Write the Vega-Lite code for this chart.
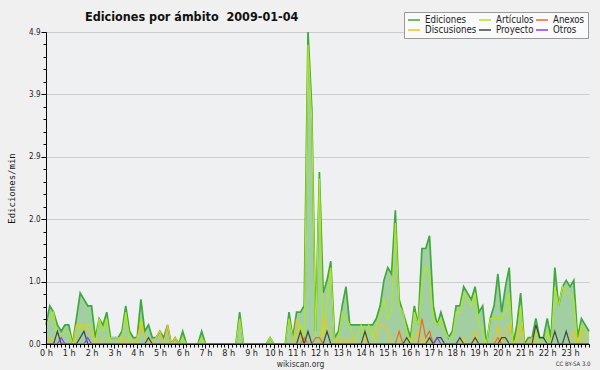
{
"$schema": "https://vega.github.io/schema/vega-lite/v6.json",
"width": 543, "height": 312,
"autosize": {"type": "none"},
"padding": {"left": 46, "top": 32, "right": 11, "bottom": 26},
"background": "#f0f0f0",
"config": {
  "view": {"fill": "#eff0f2", "stroke": null},
  "font": "DejaVu Sans Condensed",
  "axis": {"labelFont": "DejaVu Sans Condensed", "titleFont": "DejaVu Sans Condensed", "domainColor": "#000000", "tickColor": "#000000", "labelColor": "#222222"}
},
"title": {"text": "Ediciones por ámbito\u00a0 2009-01-04", "frame": "group", "anchor": "start", "dx": 39, "dy": 15, "offset": -7, "baseline": "alphabetic", "font": "DejaVu Sans Condensed", "fontSize": 12.5, "fontWeight": "bold", "color": "#111111"},
"resolve": {"axis": {"x": "independent", "y": "independent"}},
"data": {"values": [
{"s":"Ediciones","t":0,"v":0.3},{"s":"Ediciones","t":10,"v":0.6},{"s":"Ediciones","t":20,"v":0.5},{"s":"Ediciones","t":30,"v":0.3},{"s":"Ediciones","t":40,"v":0.2},{"s":"Ediciones","t":50,"v":0.3},
{"s":"Ediciones","t":60,"v":0.3},{"s":"Ediciones","t":70,"v":0},{"s":"Ediciones","t":80,"v":0.4},{"s":"Ediciones","t":90,"v":0.8},{"s":"Ediciones","t":100,"v":0.7},{"s":"Ediciones","t":110,"v":0.6},
{"s":"Ediciones","t":120,"v":0.6},{"s":"Ediciones","t":130,"v":0.1},{"s":"Ediciones","t":140,"v":0.4},{"s":"Ediciones","t":150,"v":0.3},{"s":"Ediciones","t":160,"v":0.5},{"s":"Ediciones","t":170,"v":0.1},
{"s":"Ediciones","t":180,"v":0.1},{"s":"Ediciones","t":190,"v":0.1},{"s":"Ediciones","t":200,"v":0.2},{"s":"Ediciones","t":210,"v":0.6},{"s":"Ediciones","t":220,"v":0.2},{"s":"Ediciones","t":230,"v":0.1},
{"s":"Ediciones","t":240,"v":0.1},{"s":"Ediciones","t":250,"v":0.7},{"s":"Ediciones","t":260,"v":0.2},{"s":"Ediciones","t":270,"v":0.3},{"s":"Ediciones","t":280,"v":0.1},{"s":"Ediciones","t":290,"v":0.1},
{"s":"Ediciones","t":300,"v":0.2},{"s":"Ediciones","t":310,"v":0.1},{"s":"Ediciones","t":320,"v":0.3},{"s":"Ediciones","t":330,"v":0},{"s":"Ediciones","t":340,"v":0.1},{"s":"Ediciones","t":350,"v":0},
{"s":"Ediciones","t":360,"v":0.2},{"s":"Ediciones","t":370,"v":0},{"s":"Ediciones","t":380,"v":0},{"s":"Ediciones","t":390,"v":0},{"s":"Ediciones","t":400,"v":0},{"s":"Ediciones","t":410,"v":0.2},
{"s":"Ediciones","t":420,"v":0},{"s":"Ediciones","t":430,"v":0},{"s":"Ediciones","t":440,"v":0},{"s":"Ediciones","t":450,"v":0},{"s":"Ediciones","t":460,"v":0},{"s":"Ediciones","t":470,"v":0},
{"s":"Ediciones","t":480,"v":0},{"s":"Ediciones","t":490,"v":0},{"s":"Ediciones","t":500,"v":0},{"s":"Ediciones","t":510,"v":0.5},{"s":"Ediciones","t":520,"v":0},{"s":"Ediciones","t":530,"v":0},
{"s":"Ediciones","t":540,"v":0},{"s":"Ediciones","t":550,"v":0},{"s":"Ediciones","t":560,"v":0},{"s":"Ediciones","t":570,"v":0},{"s":"Ediciones","t":580,"v":0},{"s":"Ediciones","t":590,"v":0.1},
{"s":"Ediciones","t":600,"v":0},{"s":"Ediciones","t":610,"v":0},{"s":"Ediciones","t":620,"v":0},{"s":"Ediciones","t":630,"v":0},{"s":"Ediciones","t":640,"v":0.5},{"s":"Ediciones","t":650,"v":0.1},
{"s":"Ediciones","t":660,"v":0.5},{"s":"Ediciones","t":670,"v":0.5},{"s":"Ediciones","t":680,"v":0.6},{"s":"Ediciones","t":690,"v":4.9},{"s":"Ediciones","t":700,"v":3.7},{"s":"Ediciones","t":710,"v":0.2},
{"s":"Ediciones","t":720,"v":2.7},{"s":"Ediciones","t":730,"v":0.8},{"s":"Ediciones","t":740,"v":1.0},{"s":"Ediciones","t":750,"v":1.3},{"s":"Ediciones","t":760,"v":0.1},{"s":"Ediciones","t":770,"v":0.2},
{"s":"Ediciones","t":780,"v":0.6},{"s":"Ediciones","t":790,"v":0.9},{"s":"Ediciones","t":800,"v":0.3},{"s":"Ediciones","t":810,"v":0.3},{"s":"Ediciones","t":820,"v":0.3},{"s":"Ediciones","t":830,"v":0.3},
{"s":"Ediciones","t":840,"v":0.3},{"s":"Ediciones","t":850,"v":0.3},{"s":"Ediciones","t":860,"v":0.3},{"s":"Ediciones","t":870,"v":0.4},{"s":"Ediciones","t":880,"v":0.6},{"s":"Ediciones","t":890,"v":1.0},
{"s":"Ediciones","t":900,"v":1.2},{"s":"Ediciones","t":910,"v":1.1},{"s":"Ediciones","t":920,"v":2.1},{"s":"Ediciones","t":930,"v":0.7},{"s":"Ediciones","t":940,"v":0.5},{"s":"Ediciones","t":950,"v":0.3},
{"s":"Ediciones","t":960,"v":0.1},{"s":"Ediciones","t":970,"v":0.6},{"s":"Ediciones","t":980,"v":0.3},{"s":"Ediciones","t":990,"v":1.5},{"s":"Ediciones","t":1000,"v":1.5},{"s":"Ediciones","t":1010,"v":1.7},
{"s":"Ediciones","t":1020,"v":0.6},{"s":"Ediciones","t":1030,"v":0.3},{"s":"Ediciones","t":1040,"v":0.5},{"s":"Ediciones","t":1050,"v":0.3},{"s":"Ediciones","t":1060,"v":0.1},{"s":"Ediciones","t":1070,"v":0.2},
{"s":"Ediciones","t":1080,"v":0.6},{"s":"Ediciones","t":1090,"v":0.6},{"s":"Ediciones","t":1100,"v":0.9},{"s":"Ediciones","t":1110,"v":0.8},{"s":"Ediciones","t":1120,"v":0.7},{"s":"Ediciones","t":1130,"v":0.9},
{"s":"Ediciones","t":1140,"v":0.5},{"s":"Ediciones","t":1150,"v":0.6},{"s":"Ediciones","t":1160,"v":0},{"s":"Ediciones","t":1170,"v":0.4},{"s":"Ediciones","t":1180,"v":0.6},{"s":"Ediciones","t":1190,"v":1.1},
{"s":"Ediciones","t":1200,"v":0.5},{"s":"Ediciones","t":1210,"v":0.9},{"s":"Ediciones","t":1220,"v":1.2},{"s":"Ediciones","t":1230,"v":0},{"s":"Ediciones","t":1240,"v":0.3},{"s":"Ediciones","t":1250,"v":0.8},
{"s":"Ediciones","t":1260,"v":0},{"s":"Ediciones","t":1270,"v":0.1},{"s":"Ediciones","t":1280,"v":0.1},{"s":"Ediciones","t":1290,"v":0.4},{"s":"Ediciones","t":1300,"v":0.1},{"s":"Ediciones","t":1310,"v":0.1},
{"s":"Ediciones","t":1320,"v":0.4},{"s":"Ediciones","t":1330,"v":0.1},{"s":"Ediciones","t":1340,"v":1.2},{"s":"Ediciones","t":1350,"v":0.6},{"s":"Ediciones","t":1360,"v":0.9},{"s":"Ediciones","t":1370,"v":1.0},
{"s":"Ediciones","t":1380,"v":0.9},{"s":"Ediciones","t":1390,"v":1.0},{"s":"Ediciones","t":1400,"v":0.1},{"s":"Ediciones","t":1410,"v":0.4},{"s":"Ediciones","t":1420,"v":0.3},{"s":"Ediciones","t":1430,"v":0.2},

{"s":"Artículos","t":0,"v":0.3},{"s":"Artículos","t":10,"v":0.4},{"s":"Artículos","t":20,"v":0.5},{"s":"Artículos","t":30,"v":0.1},{"s":"Artículos","t":40,"v":0.1},{"s":"Artículos","t":50,"v":0.2},
{"s":"Artículos","t":60,"v":0.2},{"s":"Artículos","t":70,"v":0},{"s":"Artículos","t":80,"v":0.1},{"s":"Artículos","t":90,"v":0.3},{"s":"Artículos","t":100,"v":0.2},{"s":"Artículos","t":110,"v":0.3},
{"s":"Artículos","t":120,"v":0.3},{"s":"Artículos","t":130,"v":0},{"s":"Artículos","t":140,"v":0.4},{"s":"Artículos","t":150,"v":0.2},{"s":"Artículos","t":160,"v":0.4},{"s":"Artículos","t":170,"v":0},
{"s":"Artículos","t":180,"v":0},{"s":"Artículos","t":190,"v":0},{"s":"Artículos","t":200,"v":0.1},{"s":"Artículos","t":210,"v":0.5},{"s":"Artículos","t":220,"v":0.1},{"s":"Artículos","t":230,"v":0},
{"s":"Artículos","t":240,"v":0},{"s":"Artículos","t":250,"v":0.4},{"s":"Artículos","t":260,"v":0.1},{"s":"Artículos","t":270,"v":0.1},{"s":"Artículos","t":280,"v":0},{"s":"Artículos","t":290,"v":0},
{"s":"Artículos","t":300,"v":0},{"s":"Artículos","t":310,"v":0},{"s":"Artículos","t":320,"v":0},{"s":"Artículos","t":330,"v":0},{"s":"Artículos","t":340,"v":0},{"s":"Artículos","t":350,"v":0},
{"s":"Artículos","t":360,"v":0.1},{"s":"Artículos","t":370,"v":0},{"s":"Artículos","t":380,"v":0},{"s":"Artículos","t":390,"v":0},{"s":"Artículos","t":400,"v":0},{"s":"Artículos","t":410,"v":0.1},
{"s":"Artículos","t":420,"v":0},{"s":"Artículos","t":430,"v":0},{"s":"Artículos","t":440,"v":0},{"s":"Artículos","t":450,"v":0},{"s":"Artículos","t":460,"v":0},{"s":"Artículos","t":470,"v":0},
{"s":"Artículos","t":480,"v":0},{"s":"Artículos","t":490,"v":0},{"s":"Artículos","t":500,"v":0},{"s":"Artículos","t":510,"v":0.4},{"s":"Artículos","t":520,"v":0},{"s":"Artículos","t":530,"v":0},
{"s":"Artículos","t":540,"v":0},{"s":"Artículos","t":550,"v":0},{"s":"Artículos","t":560,"v":0},{"s":"Artículos","t":570,"v":0},{"s":"Artículos","t":580,"v":0},{"s":"Artículos","t":590,"v":0.1},
{"s":"Artículos","t":600,"v":0},{"s":"Artículos","t":610,"v":0},{"s":"Artículos","t":620,"v":0},{"s":"Artículos","t":630,"v":0},{"s":"Artículos","t":640,"v":0.4},{"s":"Artículos","t":650,"v":0.1},
{"s":"Artículos","t":660,"v":0.1},{"s":"Artículos","t":670,"v":0.3},{"s":"Artículos","t":680,"v":0.1},{"s":"Artículos","t":690,"v":4.7},{"s":"Artículos","t":700,"v":3.5},{"s":"Artículos","t":710,"v":0.1},
{"s":"Artículos","t":720,"v":2.6},{"s":"Artículos","t":730,"v":0.1},{"s":"Artículos","t":740,"v":0.6},{"s":"Artículos","t":750,"v":1.2},{"s":"Artículos","t":760,"v":0},{"s":"Artículos","t":770,"v":0.1},
{"s":"Artículos","t":780,"v":0.5},{"s":"Artículos","t":790,"v":0.4},{"s":"Artículos","t":800,"v":0.3},{"s":"Artículos","t":810,"v":0.1},{"s":"Artículos","t":820,"v":0.1},{"s":"Artículos","t":830,"v":0.3},
{"s":"Artículos","t":840,"v":0.1},{"s":"Artículos","t":850,"v":0.3},{"s":"Artículos","t":860,"v":0.1},{"s":"Artículos","t":870,"v":0.3},{"s":"Artículos","t":880,"v":0.5},{"s":"Artículos","t":890,"v":0.7},
{"s":"Artículos","t":900,"v":0.4},{"s":"Artículos","t":910,"v":0.5},{"s":"Artículos","t":920,"v":1.9},{"s":"Artículos","t":930,"v":0.6},{"s":"Artículos","t":940,"v":0.5},{"s":"Artículos","t":950,"v":0.2},
{"s":"Artículos","t":960,"v":0},{"s":"Artículos","t":970,"v":0.5},{"s":"Artículos","t":980,"v":0.3},{"s":"Artículos","t":990,"v":1.0},{"s":"Artículos","t":1000,"v":1.2},{"s":"Artículos","t":1010,"v":1.1},
{"s":"Artículos","t":1020,"v":0.4},{"s":"Artículos","t":1030,"v":0.3},{"s":"Artículos","t":1040,"v":0.4},{"s":"Artículos","t":1050,"v":0.2},{"s":"Artículos","t":1060,"v":0.1},{"s":"Artículos","t":1070,"v":0.1},
{"s":"Artículos","t":1080,"v":0.5},{"s":"Artículos","t":1090,"v":0.5},{"s":"Artículos","t":1100,"v":0.8},{"s":"Artículos","t":1110,"v":0.7},{"s":"Artículos","t":1120,"v":0.6},{"s":"Artículos","t":1130,"v":0.8},
{"s":"Artículos","t":1140,"v":0.3},{"s":"Artículos","t":1150,"v":0.2},{"s":"Artículos","t":1160,"v":0},{"s":"Artículos","t":1170,"v":0.4},{"s":"Artículos","t":1180,"v":0.4},{"s":"Artículos","t":1190,"v":0.4},
{"s":"Artículos","t":1200,"v":0.4},{"s":"Artículos","t":1210,"v":0.5},{"s":"Artículos","t":1220,"v":0.8},{"s":"Artículos","t":1230,"v":0},{"s":"Artículos","t":1240,"v":0.1},{"s":"Artículos","t":1250,"v":0.6},
{"s":"Artículos","t":1260,"v":0},{"s":"Artículos","t":1270,"v":0},{"s":"Artículos","t":1280,"v":0},{"s":"Artículos","t":1290,"v":0.2},{"s":"Artículos","t":1300,"v":0},{"s":"Artículos","t":1310,"v":0},
{"s":"Artículos","t":1320,"v":0.2},{"s":"Artículos","t":1330,"v":0},{"s":"Artículos","t":1340,"v":0.9},{"s":"Artículos","t":1350,"v":0.6},{"s":"Artículos","t":1360,"v":0.9},{"s":"Artículos","t":1370,"v":0.8},
{"s":"Artículos","t":1380,"v":0.8},{"s":"Artículos","t":1390,"v":0.7},{"s":"Artículos","t":1400,"v":0},{"s":"Artículos","t":1410,"v":0.3},{"s":"Artículos","t":1420,"v":0.2},{"s":"Artículos","t":1430,"v":0.1},

{"s":"Discusiones","t":0,"v":0},{"s":"Discusiones","t":10,"v":0.1},{"s":"Discusiones","t":20,"v":0},{"s":"Discusiones","t":30,"v":0},{"s":"Discusiones","t":40,"v":0},{"s":"Discusiones","t":50,"v":0},
{"s":"Discusiones","t":60,"v":0},{"s":"Discusiones","t":70,"v":0},{"s":"Discusiones","t":80,"v":0.3},{"s":"Discusiones","t":90,"v":0.3},{"s":"Discusiones","t":100,"v":0.3},{"s":"Discusiones","t":110,"v":0.2},
{"s":"Discusiones","t":120,"v":0.2},{"s":"Discusiones","t":130,"v":0},{"s":"Discusiones","t":140,"v":0},{"s":"Discusiones","t":150,"v":0.1},{"s":"Discusiones","t":160,"v":0.1},{"s":"Discusiones","t":170,"v":0.1},
{"s":"Discusiones","t":180,"v":0.1},{"s":"Discusiones","t":190,"v":0.1},{"s":"Discusiones","t":200,"v":0},{"s":"Discusiones","t":210,"v":0.1},{"s":"Discusiones","t":220,"v":0},{"s":"Discusiones","t":230,"v":0},
{"s":"Discusiones","t":240,"v":0.1},{"s":"Discusiones","t":250,"v":0.3},{"s":"Discusiones","t":260,"v":0.1},{"s":"Discusiones","t":270,"v":0.1},{"s":"Discusiones","t":280,"v":0},{"s":"Discusiones","t":290,"v":0.1},
{"s":"Discusiones","t":300,"v":0.2},{"s":"Discusiones","t":310,"v":0},{"s":"Discusiones","t":320,"v":0.3},{"s":"Discusiones","t":330,"v":0},{"s":"Discusiones","t":340,"v":0.1},{"s":"Discusiones","t":350,"v":0},
{"s":"Discusiones","t":360,"v":0},{"s":"Discusiones","t":370,"v":0},{"s":"Discusiones","t":380,"v":0},{"s":"Discusiones","t":390,"v":0},{"s":"Discusiones","t":400,"v":0},{"s":"Discusiones","t":410,"v":0},
{"s":"Discusiones","t":420,"v":0},{"s":"Discusiones","t":430,"v":0},{"s":"Discusiones","t":440,"v":0},{"s":"Discusiones","t":450,"v":0},{"s":"Discusiones","t":460,"v":0},{"s":"Discusiones","t":470,"v":0},
{"s":"Discusiones","t":480,"v":0},{"s":"Discusiones","t":490,"v":0},{"s":"Discusiones","t":500,"v":0},{"s":"Discusiones","t":510,"v":0},{"s":"Discusiones","t":520,"v":0},{"s":"Discusiones","t":530,"v":0},
{"s":"Discusiones","t":540,"v":0},{"s":"Discusiones","t":550,"v":0},{"s":"Discusiones","t":560,"v":0},{"s":"Discusiones","t":570,"v":0},{"s":"Discusiones","t":580,"v":0},{"s":"Discusiones","t":590,"v":0},
{"s":"Discusiones","t":600,"v":0},{"s":"Discusiones","t":610,"v":0},{"s":"Discusiones","t":620,"v":0},{"s":"Discusiones","t":630,"v":0},{"s":"Discusiones","t":640,"v":0},{"s":"Discusiones","t":650,"v":0},
{"s":"Discusiones","t":660,"v":0.4},{"s":"Discusiones","t":670,"v":0.1},{"s":"Discusiones","t":680,"v":0},{"s":"Discusiones","t":690,"v":0},{"s":"Discusiones","t":700,"v":0},{"s":"Discusiones","t":710,"v":0},
{"s":"Discusiones","t":720,"v":0},{"s":"Discusiones","t":730,"v":0.4},{"s":"Discusiones","t":740,"v":0.3},{"s":"Discusiones","t":750,"v":0},{"s":"Discusiones","t":760,"v":0},{"s":"Discusiones","t":770,"v":0.1},
{"s":"Discusiones","t":780,"v":0},{"s":"Discusiones","t":790,"v":0.1},{"s":"Discusiones","t":800,"v":0},{"s":"Discusiones","t":810,"v":0.1},{"s":"Discusiones","t":820,"v":0},{"s":"Discusiones","t":830,"v":0},
{"s":"Discusiones","t":840,"v":0.1},{"s":"Discusiones","t":850,"v":0},{"s":"Discusiones","t":860,"v":0},{"s":"Discusiones","t":870,"v":0.1},{"s":"Discusiones","t":880,"v":0.3},{"s":"Discusiones","t":890,"v":0.3},
{"s":"Discusiones","t":900,"v":0.2},{"s":"Discusiones","t":910,"v":0},{"s":"Discusiones","t":920,"v":0},{"s":"Discusiones","t":930,"v":0.2},{"s":"Discusiones","t":940,"v":0},{"s":"Discusiones","t":950,"v":0},
{"s":"Discusiones","t":960,"v":0},{"s":"Discusiones","t":970,"v":0.1},{"s":"Discusiones","t":980,"v":0.2},{"s":"Discusiones","t":990,"v":0},{"s":"Discusiones","t":1000,"v":0.1},{"s":"Discusiones","t":1010,"v":0},
{"s":"Discusiones","t":1020,"v":0},{"s":"Discusiones","t":1030,"v":0},{"s":"Discusiones","t":1040,"v":0},{"s":"Discusiones","t":1050,"v":0},{"s":"Discusiones","t":1060,"v":0},{"s":"Discusiones","t":1070,"v":0},
{"s":"Discusiones","t":1080,"v":0},{"s":"Discusiones","t":1090,"v":0},{"s":"Discusiones","t":1100,"v":0.1},{"s":"Discusiones","t":1110,"v":0},{"s":"Discusiones","t":1120,"v":0},{"s":"Discusiones","t":1130,"v":0.2},
{"s":"Discusiones","t":1140,"v":0},{"s":"Discusiones","t":1150,"v":0},{"s":"Discusiones","t":1160,"v":0},{"s":"Discusiones","t":1170,"v":0},{"s":"Discusiones","t":1180,"v":0},{"s":"Discusiones","t":1190,"v":0.3},
{"s":"Discusiones","t":1200,"v":0},{"s":"Discusiones","t":1210,"v":0.2},{"s":"Discusiones","t":1220,"v":0.3},{"s":"Discusiones","t":1230,"v":0},{"s":"Discusiones","t":1240,"v":0},{"s":"Discusiones","t":1250,"v":0.3},
{"s":"Discusiones","t":1260,"v":0},{"s":"Discusiones","t":1270,"v":0},{"s":"Discusiones","t":1280,"v":0.1},{"s":"Discusiones","t":1290,"v":0},{"s":"Discusiones","t":1300,"v":0},{"s":"Discusiones","t":1310,"v":0},
{"s":"Discusiones","t":1320,"v":0},{"s":"Discusiones","t":1330,"v":0},{"s":"Discusiones","t":1340,"v":0},{"s":"Discusiones","t":1350,"v":0},{"s":"Discusiones","t":1360,"v":0},{"s":"Discusiones","t":1370,"v":0},
{"s":"Discusiones","t":1380,"v":0},{"s":"Discusiones","t":1390,"v":0.2},{"s":"Discusiones","t":1400,"v":0},{"s":"Discusiones","t":1410,"v":0.2},{"s":"Discusiones","t":1420,"v":0},{"s":"Discusiones","t":1430,"v":0},

{"s":"Anexos","t":0,"v":0},{"s":"Anexos","t":10,"v":0},{"s":"Anexos","t":20,"v":0},{"s":"Anexos","t":30,"v":0},{"s":"Anexos","t":40,"v":0},{"s":"Anexos","t":50,"v":0},
{"s":"Anexos","t":60,"v":0},{"s":"Anexos","t":70,"v":0},{"s":"Anexos","t":80,"v":0},{"s":"Anexos","t":90,"v":0},{"s":"Anexos","t":100,"v":0},{"s":"Anexos","t":110,"v":0},
{"s":"Anexos","t":120,"v":0},{"s":"Anexos","t":130,"v":0},{"s":"Anexos","t":140,"v":0},{"s":"Anexos","t":150,"v":0},{"s":"Anexos","t":160,"v":0},{"s":"Anexos","t":170,"v":0},
{"s":"Anexos","t":180,"v":0},{"s":"Anexos","t":190,"v":0},{"s":"Anexos","t":200,"v":0},{"s":"Anexos","t":210,"v":0},{"s":"Anexos","t":220,"v":0},{"s":"Anexos","t":230,"v":0},
{"s":"Anexos","t":240,"v":0},{"s":"Anexos","t":250,"v":0},{"s":"Anexos","t":260,"v":0},{"s":"Anexos","t":270,"v":0},{"s":"Anexos","t":280,"v":0},{"s":"Anexos","t":290,"v":0},
{"s":"Anexos","t":300,"v":0},{"s":"Anexos","t":310,"v":0},{"s":"Anexos","t":320,"v":0},{"s":"Anexos","t":330,"v":0},{"s":"Anexos","t":340,"v":0},{"s":"Anexos","t":350,"v":0},
{"s":"Anexos","t":360,"v":0},{"s":"Anexos","t":370,"v":0},{"s":"Anexos","t":380,"v":0},{"s":"Anexos","t":390,"v":0},{"s":"Anexos","t":400,"v":0},{"s":"Anexos","t":410,"v":0},
{"s":"Anexos","t":420,"v":0},{"s":"Anexos","t":430,"v":0},{"s":"Anexos","t":440,"v":0},{"s":"Anexos","t":450,"v":0},{"s":"Anexos","t":460,"v":0},{"s":"Anexos","t":470,"v":0},
{"s":"Anexos","t":480,"v":0},{"s":"Anexos","t":490,"v":0},{"s":"Anexos","t":500,"v":0},{"s":"Anexos","t":510,"v":0},{"s":"Anexos","t":520,"v":0},{"s":"Anexos","t":530,"v":0},
{"s":"Anexos","t":540,"v":0},{"s":"Anexos","t":550,"v":0},{"s":"Anexos","t":560,"v":0},{"s":"Anexos","t":570,"v":0},{"s":"Anexos","t":580,"v":0},{"s":"Anexos","t":590,"v":0},
{"s":"Anexos","t":600,"v":0},{"s":"Anexos","t":610,"v":0},{"s":"Anexos","t":620,"v":0},{"s":"Anexos","t":630,"v":0},{"s":"Anexos","t":640,"v":0},{"s":"Anexos","t":650,"v":0},
{"s":"Anexos","t":660,"v":0},{"s":"Anexos","t":670,"v":0},{"s":"Anexos","t":680,"v":0.1},{"s":"Anexos","t":690,"v":0},{"s":"Anexos","t":700,"v":0},{"s":"Anexos","t":710,"v":0.1},
{"s":"Anexos","t":720,"v":0.1},{"s":"Anexos","t":730,"v":0},{"s":"Anexos","t":740,"v":0},{"s":"Anexos","t":750,"v":0},{"s":"Anexos","t":760,"v":0},{"s":"Anexos","t":770,"v":0},
{"s":"Anexos","t":780,"v":0},{"s":"Anexos","t":790,"v":0},{"s":"Anexos","t":800,"v":0},{"s":"Anexos","t":810,"v":0},{"s":"Anexos","t":820,"v":0},{"s":"Anexos","t":830,"v":0},
{"s":"Anexos","t":840,"v":0},{"s":"Anexos","t":850,"v":0},{"s":"Anexos","t":860,"v":0},{"s":"Anexos","t":870,"v":0},{"s":"Anexos","t":880,"v":0},{"s":"Anexos","t":890,"v":0},
{"s":"Anexos","t":900,"v":0},{"s":"Anexos","t":910,"v":0},{"s":"Anexos","t":920,"v":0},{"s":"Anexos","t":930,"v":0.2},{"s":"Anexos","t":940,"v":0},{"s":"Anexos","t":950,"v":0},
{"s":"Anexos","t":960,"v":0},{"s":"Anexos","t":970,"v":0},{"s":"Anexos","t":980,"v":0},{"s":"Anexos","t":990,"v":0.4},{"s":"Anexos","t":1000,"v":0.1},{"s":"Anexos","t":1010,"v":0.2},
{"s":"Anexos","t":1020,"v":0},{"s":"Anexos","t":1030,"v":0},{"s":"Anexos","t":1040,"v":0},{"s":"Anexos","t":1050,"v":0},{"s":"Anexos","t":1060,"v":0},{"s":"Anexos","t":1070,"v":0},
{"s":"Anexos","t":1080,"v":0},{"s":"Anexos","t":1090,"v":0},{"s":"Anexos","t":1100,"v":0},{"s":"Anexos","t":1110,"v":0},{"s":"Anexos","t":1120,"v":0},{"s":"Anexos","t":1130,"v":0},
{"s":"Anexos","t":1140,"v":0},{"s":"Anexos","t":1150,"v":0},{"s":"Anexos","t":1160,"v":0},{"s":"Anexos","t":1170,"v":0},{"s":"Anexos","t":1180,"v":0},{"s":"Anexos","t":1190,"v":0.1},
{"s":"Anexos","t":1200,"v":0},{"s":"Anexos","t":1210,"v":0},{"s":"Anexos","t":1220,"v":0},{"s":"Anexos","t":1230,"v":0},{"s":"Anexos","t":1240,"v":0},{"s":"Anexos","t":1250,"v":0},
{"s":"Anexos","t":1260,"v":0},{"s":"Anexos","t":1270,"v":0},{"s":"Anexos","t":1280,"v":0},{"s":"Anexos","t":1290,"v":0},{"s":"Anexos","t":1300,"v":0},{"s":"Anexos","t":1310,"v":0},
{"s":"Anexos","t":1320,"v":0},{"s":"Anexos","t":1330,"v":0},{"s":"Anexos","t":1340,"v":0},{"s":"Anexos","t":1350,"v":0},{"s":"Anexos","t":1360,"v":0},{"s":"Anexos","t":1370,"v":0},
{"s":"Anexos","t":1380,"v":0},{"s":"Anexos","t":1390,"v":0},{"s":"Anexos","t":1400,"v":0},{"s":"Anexos","t":1410,"v":0},{"s":"Anexos","t":1420,"v":0},{"s":"Anexos","t":1430,"v":0},

{"s":"Proyecto","t":0,"v":0},{"s":"Proyecto","t":10,"v":0},{"s":"Proyecto","t":20,"v":0},{"s":"Proyecto","t":30,"v":0.2},{"s":"Proyecto","t":40,"v":0},{"s":"Proyecto","t":50,"v":0},
{"s":"Proyecto","t":60,"v":0},{"s":"Proyecto","t":70,"v":0},{"s":"Proyecto","t":80,"v":0},{"s":"Proyecto","t":90,"v":0.1},{"s":"Proyecto","t":100,"v":0.2},{"s":"Proyecto","t":110,"v":0},
{"s":"Proyecto","t":120,"v":0},{"s":"Proyecto","t":130,"v":0},{"s":"Proyecto","t":140,"v":0},{"s":"Proyecto","t":150,"v":0},{"s":"Proyecto","t":160,"v":0},{"s":"Proyecto","t":170,"v":0},
{"s":"Proyecto","t":180,"v":0},{"s":"Proyecto","t":190,"v":0},{"s":"Proyecto","t":200,"v":0},{"s":"Proyecto","t":210,"v":0},{"s":"Proyecto","t":220,"v":0},{"s":"Proyecto","t":230,"v":0},
{"s":"Proyecto","t":240,"v":0},{"s":"Proyecto","t":250,"v":0},{"s":"Proyecto","t":260,"v":0},{"s":"Proyecto","t":270,"v":0.1},{"s":"Proyecto","t":280,"v":0},{"s":"Proyecto","t":290,"v":0},
{"s":"Proyecto","t":300,"v":0},{"s":"Proyecto","t":310,"v":0},{"s":"Proyecto","t":320,"v":0},{"s":"Proyecto","t":330,"v":0},{"s":"Proyecto","t":340,"v":0},{"s":"Proyecto","t":350,"v":0},
{"s":"Proyecto","t":360,"v":0},{"s":"Proyecto","t":370,"v":0},{"s":"Proyecto","t":380,"v":0},{"s":"Proyecto","t":390,"v":0},{"s":"Proyecto","t":400,"v":0},{"s":"Proyecto","t":410,"v":0},
{"s":"Proyecto","t":420,"v":0},{"s":"Proyecto","t":430,"v":0},{"s":"Proyecto","t":440,"v":0},{"s":"Proyecto","t":450,"v":0},{"s":"Proyecto","t":460,"v":0},{"s":"Proyecto","t":470,"v":0},
{"s":"Proyecto","t":480,"v":0},{"s":"Proyecto","t":490,"v":0},{"s":"Proyecto","t":500,"v":0},{"s":"Proyecto","t":510,"v":0},{"s":"Proyecto","t":520,"v":0},{"s":"Proyecto","t":530,"v":0},
{"s":"Proyecto","t":540,"v":0},{"s":"Proyecto","t":550,"v":0},{"s":"Proyecto","t":560,"v":0},{"s":"Proyecto","t":570,"v":0},{"s":"Proyecto","t":580,"v":0},{"s":"Proyecto","t":590,"v":0},
{"s":"Proyecto","t":600,"v":0},{"s":"Proyecto","t":610,"v":0},{"s":"Proyecto","t":620,"v":0},{"s":"Proyecto","t":630,"v":0},{"s":"Proyecto","t":640,"v":0},{"s":"Proyecto","t":650,"v":0},
{"s":"Proyecto","t":660,"v":0},{"s":"Proyecto","t":670,"v":0.2},{"s":"Proyecto","t":680,"v":0},{"s":"Proyecto","t":690,"v":0.2},{"s":"Proyecto","t":700,"v":0},{"s":"Proyecto","t":710,"v":0},
{"s":"Proyecto","t":720,"v":0},{"s":"Proyecto","t":730,"v":0},{"s":"Proyecto","t":740,"v":0.2},{"s":"Proyecto","t":750,"v":0},{"s":"Proyecto","t":760,"v":0},{"s":"Proyecto","t":770,"v":0},
{"s":"Proyecto","t":780,"v":0},{"s":"Proyecto","t":790,"v":0},{"s":"Proyecto","t":800,"v":0},{"s":"Proyecto","t":810,"v":0},{"s":"Proyecto","t":820,"v":0},{"s":"Proyecto","t":830,"v":0},
{"s":"Proyecto","t":840,"v":0.2},{"s":"Proyecto","t":850,"v":0},{"s":"Proyecto","t":860,"v":0},{"s":"Proyecto","t":870,"v":0},{"s":"Proyecto","t":880,"v":0},{"s":"Proyecto","t":890,"v":0},
{"s":"Proyecto","t":900,"v":0},{"s":"Proyecto","t":910,"v":0},{"s":"Proyecto","t":920,"v":0},{"s":"Proyecto","t":930,"v":0},{"s":"Proyecto","t":940,"v":0},{"s":"Proyecto","t":950,"v":0.1},
{"s":"Proyecto","t":960,"v":0},{"s":"Proyecto","t":970,"v":0},{"s":"Proyecto","t":980,"v":0},{"s":"Proyecto","t":990,"v":0},{"s":"Proyecto","t":1000,"v":0},{"s":"Proyecto","t":1010,"v":0.1},
{"s":"Proyecto","t":1020,"v":0},{"s":"Proyecto","t":1030,"v":0.1},{"s":"Proyecto","t":1040,"v":0.1},{"s":"Proyecto","t":1050,"v":0},{"s":"Proyecto","t":1060,"v":0},{"s":"Proyecto","t":1070,"v":0},
{"s":"Proyecto","t":1080,"v":0},{"s":"Proyecto","t":1090,"v":0.1},{"s":"Proyecto","t":1100,"v":0},{"s":"Proyecto","t":1110,"v":0},{"s":"Proyecto","t":1120,"v":0},{"s":"Proyecto","t":1130,"v":0.1},
{"s":"Proyecto","t":1140,"v":0},{"s":"Proyecto","t":1150,"v":0},{"s":"Proyecto","t":1160,"v":0},{"s":"Proyecto","t":1170,"v":0},{"s":"Proyecto","t":1180,"v":0},{"s":"Proyecto","t":1190,"v":0},
{"s":"Proyecto","t":1200,"v":0.1},{"s":"Proyecto","t":1210,"v":0.1},{"s":"Proyecto","t":1220,"v":0},{"s":"Proyecto","t":1230,"v":0},{"s":"Proyecto","t":1240,"v":0},{"s":"Proyecto","t":1250,"v":0},
{"s":"Proyecto","t":1260,"v":0},{"s":"Proyecto","t":1270,"v":0},{"s":"Proyecto","t":1280,"v":0},{"s":"Proyecto","t":1290,"v":0.3},{"s":"Proyecto","t":1300,"v":0.1},{"s":"Proyecto","t":1310,"v":0.1},
{"s":"Proyecto","t":1320,"v":0},{"s":"Proyecto","t":1330,"v":0},{"s":"Proyecto","t":1340,"v":0.2},{"s":"Proyecto","t":1350,"v":0},{"s":"Proyecto","t":1360,"v":0},{"s":"Proyecto","t":1370,"v":0.2},
{"s":"Proyecto","t":1380,"v":0},{"s":"Proyecto","t":1390,"v":0},{"s":"Proyecto","t":1400,"v":0},{"s":"Proyecto","t":1410,"v":0},{"s":"Proyecto","t":1420,"v":0},{"s":"Proyecto","t":1430,"v":0},

{"s":"Otros","t":0,"v":0},{"s":"Otros","t":10,"v":0},{"s":"Otros","t":20,"v":0},{"s":"Otros","t":30,"v":0},{"s":"Otros","t":40,"v":0.1},{"s":"Otros","t":50,"v":0},
{"s":"Otros","t":60,"v":0},{"s":"Otros","t":70,"v":0},{"s":"Otros","t":80,"v":0},{"s":"Otros","t":90,"v":0},{"s":"Otros","t":100,"v":0},{"s":"Otros","t":110,"v":0.1},
{"s":"Otros","t":120,"v":0},{"s":"Otros","t":130,"v":0},{"s":"Otros","t":140,"v":0},{"s":"Otros","t":150,"v":0},{"s":"Otros","t":160,"v":0},{"s":"Otros","t":170,"v":0},
{"s":"Otros","t":180,"v":0},{"s":"Otros","t":190,"v":0},{"s":"Otros","t":200,"v":0},{"s":"Otros","t":210,"v":0},{"s":"Otros","t":220,"v":0},{"s":"Otros","t":230,"v":0},
{"s":"Otros","t":240,"v":0},{"s":"Otros","t":250,"v":0},{"s":"Otros","t":260,"v":0},{"s":"Otros","t":270,"v":0},{"s":"Otros","t":280,"v":0},{"s":"Otros","t":290,"v":0},
{"s":"Otros","t":300,"v":0},{"s":"Otros","t":310,"v":0},{"s":"Otros","t":320,"v":0},{"s":"Otros","t":330,"v":0},{"s":"Otros","t":340,"v":0},{"s":"Otros","t":350,"v":0},
{"s":"Otros","t":360,"v":0},{"s":"Otros","t":370,"v":0},{"s":"Otros","t":380,"v":0},{"s":"Otros","t":390,"v":0},{"s":"Otros","t":400,"v":0},{"s":"Otros","t":410,"v":0},
{"s":"Otros","t":420,"v":0},{"s":"Otros","t":430,"v":0},{"s":"Otros","t":440,"v":0},{"s":"Otros","t":450,"v":0},{"s":"Otros","t":460,"v":0},{"s":"Otros","t":470,"v":0},
{"s":"Otros","t":480,"v":0},{"s":"Otros","t":490,"v":0},{"s":"Otros","t":500,"v":0},{"s":"Otros","t":510,"v":0},{"s":"Otros","t":520,"v":0},{"s":"Otros","t":530,"v":0},
{"s":"Otros","t":540,"v":0},{"s":"Otros","t":550,"v":0},{"s":"Otros","t":560,"v":0},{"s":"Otros","t":570,"v":0},{"s":"Otros","t":580,"v":0},{"s":"Otros","t":590,"v":0},
{"s":"Otros","t":600,"v":0},{"s":"Otros","t":610,"v":0},{"s":"Otros","t":620,"v":0},{"s":"Otros","t":630,"v":0},{"s":"Otros","t":640,"v":0},{"s":"Otros","t":650,"v":0},
{"s":"Otros","t":660,"v":0},{"s":"Otros","t":670,"v":0},{"s":"Otros","t":680,"v":0},{"s":"Otros","t":690,"v":0},{"s":"Otros","t":700,"v":0},{"s":"Otros","t":710,"v":0},
{"s":"Otros","t":720,"v":0},{"s":"Otros","t":730,"v":0},{"s":"Otros","t":740,"v":0},{"s":"Otros","t":750,"v":0},{"s":"Otros","t":760,"v":0},{"s":"Otros","t":770,"v":0},
{"s":"Otros","t":780,"v":0},{"s":"Otros","t":790,"v":0},{"s":"Otros","t":800,"v":0},{"s":"Otros","t":810,"v":0},{"s":"Otros","t":820,"v":0},{"s":"Otros","t":830,"v":0},
{"s":"Otros","t":840,"v":0},{"s":"Otros","t":850,"v":0},{"s":"Otros","t":860,"v":0},{"s":"Otros","t":870,"v":0},{"s":"Otros","t":880,"v":0},{"s":"Otros","t":890,"v":0},
{"s":"Otros","t":900,"v":0},{"s":"Otros","t":910,"v":0},{"s":"Otros","t":920,"v":0},{"s":"Otros","t":930,"v":0},{"s":"Otros","t":940,"v":0},{"s":"Otros","t":950,"v":0},
{"s":"Otros","t":960,"v":0},{"s":"Otros","t":970,"v":0},{"s":"Otros","t":980,"v":0},{"s":"Otros","t":990,"v":0},{"s":"Otros","t":1000,"v":0},{"s":"Otros","t":1010,"v":0},
{"s":"Otros","t":1020,"v":0},{"s":"Otros","t":1030,"v":0.1},{"s":"Otros","t":1040,"v":0},{"s":"Otros","t":1050,"v":0},{"s":"Otros","t":1060,"v":0},{"s":"Otros","t":1070,"v":0},
{"s":"Otros","t":1080,"v":0},{"s":"Otros","t":1090,"v":0},{"s":"Otros","t":1100,"v":0},{"s":"Otros","t":1110,"v":0},{"s":"Otros","t":1120,"v":0},{"s":"Otros","t":1130,"v":0},
{"s":"Otros","t":1140,"v":0},{"s":"Otros","t":1150,"v":0},{"s":"Otros","t":1160,"v":0},{"s":"Otros","t":1170,"v":0},{"s":"Otros","t":1180,"v":0},{"s":"Otros","t":1190,"v":0},
{"s":"Otros","t":1200,"v":0},{"s":"Otros","t":1210,"v":0},{"s":"Otros","t":1220,"v":0},{"s":"Otros","t":1230,"v":0},{"s":"Otros","t":1240,"v":0},{"s":"Otros","t":1250,"v":0},
{"s":"Otros","t":1260,"v":0},{"s":"Otros","t":1270,"v":0},{"s":"Otros","t":1280,"v":0},{"s":"Otros","t":1290,"v":0},{"s":"Otros","t":1300,"v":0},{"s":"Otros","t":1310,"v":0},
{"s":"Otros","t":1320,"v":0},{"s":"Otros","t":1330,"v":0},{"s":"Otros","t":1340,"v":0},{"s":"Otros","t":1350,"v":0},{"s":"Otros","t":1360,"v":0},{"s":"Otros","t":1370,"v":0},
{"s":"Otros","t":1380,"v":0},{"s":"Otros","t":1390,"v":0},{"s":"Otros","t":1400,"v":0},{"s":"Otros","t":1410,"v":0},{"s":"Otros","t":1420,"v":0},{"s":"Otros","t":1430,"v":0}
]},
"layer": [
  {
    "transform": [{"filter": "datum.s === 'Ediciones'"}],
    "mark": {"type": "area", "fill": "#a2cfa2", "interpolate": "linear"},
    "encoding": {
      "x": {"field": "t", "type": "quantitative", "scale": {"domain": [0, 1430], "nice": false, "zero": false},
        "axis": {"orient": "bottom", "values": [0,60,120,180,240,300,360,420,480,540,600,660,720,780,840,900,960,1020,1080,1140,1200,1260,1320,1380],
          "labelExpr": "datum.value / 60 + ' h'", "labelFlush": false, "labelOverlap": false, "labelFontSize": 9, "labelPadding": 0,
          "tickSize": 4, "domain": false, "grid": false,
          "title": "wikiscan.org", "titleX": 254, "titleY": 19, "titleAlign": "center", "titleBaseline": "middle", "titleFontSize": 8.5, "titleFontWeight": "normal", "titleColor": "#333333"}},
      "y": {"field": "v", "type": "quantitative", "scale": {"domain": [0, 4.9], "nice": false},
        "axis": {"orient": "left", "values": [0, 0.98, 1.96, 2.94, 3.92, 4.9], "format": ".1f", "labelOverlap": false, "labelFontSize": 8, "labelPadding": 1,
          "tickSize": 5, "domain": false, "grid": true, "gridColor": "#cccccc",
          "title": "Ediciones/min", "titleFont": "DejaVu Sans Mono", "titleFontSize": 9, "titleFontWeight": "normal", "titleColor": "#111111",
          "titleX": -35, "titleY": 156, "titleAngle": 270, "titleAlign": "center", "titleBaseline": "middle"}}
    }
  },
  {
    "mark": {"type": "line", "interpolate": "linear"},
    "encoding": {
      "x": {"field": "t", "type": "quantitative", "axis": null},
      "y": {"field": "v", "type": "quantitative", "axis": null},
      "color": {"field": "s", "type": "nominal",
        "scale": {"domain": ["Ediciones", "Artículos", "Anexos", "Discusiones", "Proyecto", "Otros"],
                  "range": ["#3fa83f", "#b2e61e", "#f06a1f", "#f2c21b", "#444444", "#8a3cf0"]},
        "legend": {"orient": "none", "legendX": 358, "legendY": -20, "columns": 3, "direction": "horizontal", "title": null,
          "symbolType": "stroke", "symbolSize": 144, "symbolStrokeWidth": 1.5, "labelFont": "DejaVu Sans Condensed", "labelFontSize": 9.6,
          "labelColor": "#222222", "labelOffset": 4, "columnPadding": 1, "rowPadding": 0, "padding": 3, "clipHeight": 10,
          "fillColor": "#fafafa", "strokeColor": "#999999"}},
      "strokeWidth": {"condition": {"test": "datum.s === 'Ediciones'", "value": 1.7}, "value": 1.2}
    }
  },
  {
    "transform": [{"filter": "datum.s === 'Ediciones'"}],
    "mark": {"type": "point", "opacity": 0},
    "encoding": {
      "x": {"field": "t", "type": "quantitative",
        "axis": {"orient": "bottom", "tickCount": 143, "labels": false, "tickSize": 3, "domain": true, "grid": false, "zindex": 1,
          "title": "CC BY-SA 3.0", "titleX": 544, "titleY": 19, "titleAlign": "right", "titleBaseline": "middle", "titleFontSize": 6, "titleFontWeight": "normal", "titleColor": "#333333"}},
      "y": {"field": "v", "type": "quantitative",
        "axis": {"orient": "left", "values": [0,0.196,0.392,0.588,0.784,0.98,1.176,1.372,1.568,1.764,1.96,2.156,2.352,2.548,2.744,2.94,3.136,3.332,3.528,3.724,3.92,4.116,4.312,4.508,4.704,4.9],
          "labels": false, "tickSize": 3, "domain": true, "grid": false, "zindex": 1, "title": null}}
    }
  }
]
}
